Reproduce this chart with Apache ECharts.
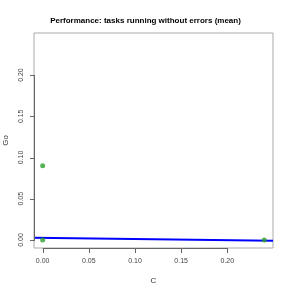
<!DOCTYPE html>
<html><head><meta charset="utf-8">
<script src="https://cdn.jsdelivr.net/npm/echarts@6/dist/echarts.min.js"></script>
<style>html,body{margin:0;padding:0;background:#fff}#c{width:291px;height:291px}</style>
</head><body><div id="c"></div>
<script>
var pointsX = [0.0, 0.0, 0.24];
var pointsY = [0.09, 0.0, 0.0];
var fitX = [-0.0094, 0.2495];
var fitY = [0.0028, -0.0008];
var xTicks = [0, 0.05, 0.10, 0.15, 0.20];
var yTicks = [0, 0.05, 0.10, 0.15, 0.20];

var font = 'Liberation Sans, Arial, sans-serif';
var chart = echarts.init(document.getElementById('c'), null, {renderer: 'canvas'});
var opt = {
  animation: false,
  title: {text: 'Performance: tasks running without errors (mean)', left: 'center', top: 12,
    textStyle: {fontFamily: font, fontSize: 8, fontWeight: 'bold', color: '#000'}},
  grid: {left: 34, right: 18, top: 33, bottom: 43, containLabel: false, outerBoundsMode: 'none',
    show: true, borderColor: '#aaa', borderWidth: 1, backgroundColor: '#fff'},
  xAxis: {type: 'value', position: 'bottom', min: -0.0094, max: 0.2495, name: 'C', nameLocation: 'middle', nameGap: 29,
    nameTextStyle: {fontFamily: font, fontSize: 8, color: '#333'},
    axisLine: {show: false, onZero: false}, splitLine: {show: false},
    axisTick: {show: false},
    axisLabel: {customValues: xTicks, inside: false, fontFamily: font, fontSize: 7, color: '#444', margin: 10,
      formatter: function (v) { return v.toFixed(2); }}},
  yAxis: {type: 'value', position: 'left', min: -0.0097, max: 0.251, name: 'Go', nameLocation: 'middle', nameGap: 24,
    nameTextStyle: {fontFamily: font, fontSize: 8, color: '#333'},
    axisLine: {show: false, onZero: false}, splitLine: {show: false},
    axisTick: {show: false},
    axisLabel: {customValues: yTicks, inside: false, fontFamily: font, fontSize: 7, color: '#444', margin: 9, rotate: 90,
      formatter: function (v) { return v.toFixed(2); }}},
  series: [
    {type: 'line', data: fitX.map(function (x, i) { return [x, fitY[i]]; }), symbol: 'none',
      lineStyle: {color: '#0000ff', width: 2}, z: 3},
    {type: 'scatter', data: pointsX.map(function (x, i) { return [x, pointsY[i]]; }), symbolSize: 5,
      itemStyle: {color: '#2ca02c'}, z: 4}
  ]
};
chart.setOption(opt);
var rect = chart.getModel().getComponent('grid', 0).coordinateSystem.getRect();
var bx = Math.round(rect.x), by = Math.round(rect.y + rect.height);
var px0 = chart.convertToPixel({gridIndex: 0}, [xTicks[0], yTicks[0]]);
var px1 = chart.convertToPixel({gridIndex: 0}, [xTicks[xTicks.length - 1], yTicks[yTicks.length - 1]]);
var g = [
  {type: 'rect', shape: {x: bx, y: px1[1], width: 1, height: px0[1] - px1[1]}, style: {fill: '#666'}, z: 10},
  {type: 'rect', shape: {x: px0[0], y: by, width: px1[0] - px0[0], height: 1}, style: {fill: '#666'}, z: 10}
];
for (var i = 0; i < xTicks.length; i++) {
  var pxx = chart.convertToPixel({gridIndex: 0}, [xTicks[i], yTicks[0]])[0];
  g.push({type: 'rect', shape: {x: Math.round(pxx), y: by, width: 1, height: 5}, style: {fill: '#666'}, z: 10});
}
for (var j = 0; j < yTicks.length; j++) {
  var pyy = chart.convertToPixel({gridIndex: 0}, [xTicks[0], yTicks[j]])[1];
  g.push({type: 'rect', shape: {x: bx - 4, y: Math.round(pyy), width: 5, height: 1}, style: {fill: '#666'}, z: 10});
}
chart.setOption({graphic: g});
</script></body></html>
